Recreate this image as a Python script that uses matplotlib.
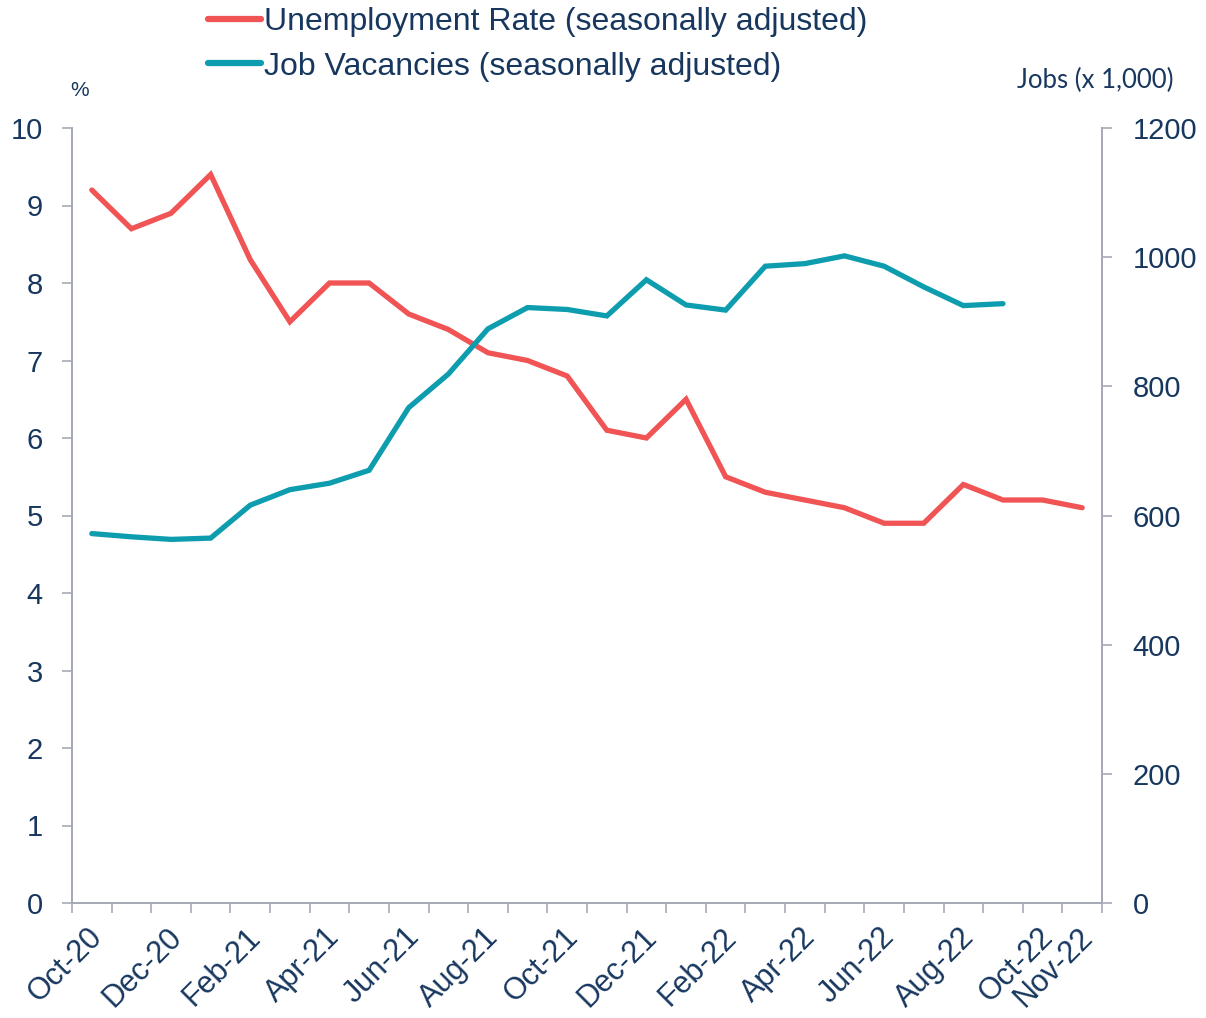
import numpy as np
import matplotlib
matplotlib.use('Agg')
import matplotlib.pyplot as plt
import matplotlib.transforms as mtransforms

# --- Data ---
months = ['Oct-20', 'Nov-20', 'Dec-20', 'Jan-21', 'Feb-21', 'Mar-21', 'Apr-21',
          'May-21', 'Jun-21', 'Jul-21', 'Aug-21', 'Sep-21', 'Oct-21', 'Nov-21',
          'Dec-21', 'Jan-22', 'Feb-22', 'Mar-22', 'Apr-22', 'May-22', 'Jun-22',
          'Jul-22', 'Aug-22', 'Sep-22', 'Oct-22', 'Nov-22']
shown_labels = ['Oct-20', 'Dec-20', 'Feb-21', 'Apr-21', 'Jun-21', 'Aug-21', 'Oct-21',
                'Dec-21', 'Feb-22', 'Apr-22', 'Jun-22', 'Aug-22', 'Oct-22', 'Nov-22']

unemployment = [9.2, 8.7, 8.9, 9.4, 8.3, 7.5, 8.0, 8.0, 7.6, 7.4, 7.1, 7.0, 6.8,
                6.1, 6.0, 6.5, 5.5, 5.3, 5.2, 5.1, 4.9, 4.9, 5.4, 5.2, 5.2, 5.1]
vacancies = [572, 567, 563, 565, 616, 640, 650, 670, 767, 819, 889, 922, 919,
             909, 965, 926, 918, 986, 990, 1002, 986, 954, 925, 928, np.nan, np.nan]

RED = '#F05454'
TEAL = '#0E9DAE'
NAVY = '#17375E'
GREY = '#A6AAB5'
FONT = 'Liberation Sans'

plt.rcParams['font.family'] = [FONT, 'DejaVu Sans']

fig = plt.figure(figsize=(12.06, 10.18), dpi=100)
ax = fig.add_axes([72 / 1206, 1 - 903 / 1018, 1030 / 1206, 775 / 1018])
ax2 = ax.twinx()

x = np.arange(len(months))
l1, = ax.plot(x, unemployment, color=RED, lw=3.8, solid_joinstyle='miter',
              solid_capstyle='round', label='Unemployment Rate (seasonally adjusted)')
l2, = ax2.plot(x, vacancies, color=TEAL, lw=3.8, solid_joinstyle='miter',
               solid_capstyle='round', label='Job Vacancies (seasonally adjusted)')

ax.set_xlim(-0.5, len(months) - 0.5)
ax.set_ylim(0, 10)
ax2.set_ylim(0, 1200)
ax.set_yticks(range(0, 11))
ax2.set_yticks(range(0, 1201, 200))

# category ticks at boundaries, labels at centres
ax.set_xticks(np.arange(-0.5, len(months), 1), minor=True)
ax.set_xticks([months.index(m) for m in shown_labels])
ax.set_xticklabels(shown_labels, rotation=45, ha='right', va='center',
                   rotation_mode='anchor', fontsize=22, color=NAVY)
ax.tick_params(axis='x', which='major', length=0, pad=20)
ax.tick_params(axis='x', which='minor', length=7, width=1.2, color=GREY, direction='out')
shift = mtransforms.ScaledTranslation(6 / 100, -2 / 100, fig.dpi_scale_trans)
for lab in ax.get_xticklabels():
    lab.set_transform(lab.get_transform() + shift)

ax.tick_params(axis='y', length=7, width=1.2, color=GREY, labelsize=21,
               labelcolor=NAVY, pad=14)
ax2.tick_params(axis='y', length=7, width=1.2, color=GREY, labelsize=21,
                labelcolor=NAVY, pad=15)

for a in (ax, ax2):
    a.spines['top'].set_visible(False)
    for s in ('left', 'right', 'bottom'):
        a.spines[s].set_color(GREY)
        a.spines[s].set_linewidth(1.3)

fig.text(80 / 1206, 1 - 90 / 1018, '%', fontsize=15, color=NAVY,
         ha='center', va='center')
fig.text(1095 / 1206, 1 - 80 / 1018, 'Jobs (x 1,000)', fontsize=18.5, color=NAVY,
         ha='center', va='center', family=['Lato', 'DejaVu Sans'])

leg = fig.legend(handles=[l1, l2], loc='upper left',
                 bbox_to_anchor=(205 / 1206, 1 - 4 / 1018), frameon=False,
                 fontsize=23, handlelength=1.65, handletextpad=0.1,
                 labelspacing=0.45, borderaxespad=0.0, borderpad=0.1)
for t in leg.get_texts():
    t.set_color(NAVY)
for h in leg.legend_handles:
    h.set_linewidth(4.5)

fig.savefig('out.png', dpi=100)
